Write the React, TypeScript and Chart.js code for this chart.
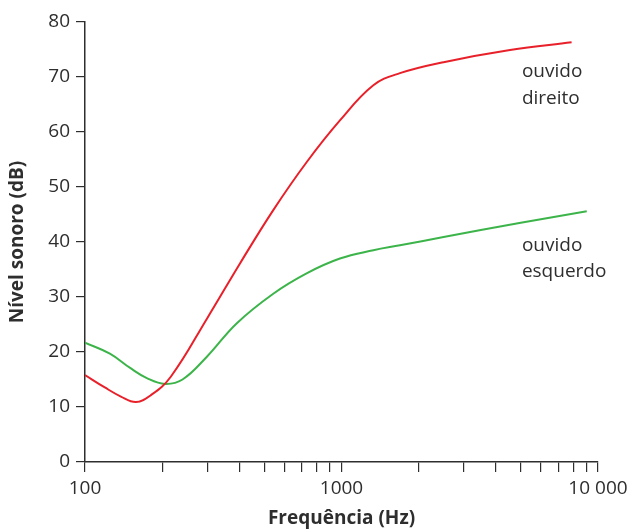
import React, { useEffect, useRef } from "react";
import { Chart, registerables } from "chart.js";

Chart.register(...registerables);

// Frequency (Hz) and sound level (dB) for each ear
const rightFreq = [100, 119, 138, 158, 180, 216, 300, 402, 542, 731, 986, 1331, 1690, 2500, 4540, 7890];
const rightLevel = [15.8, 13.6, 11.9, 10.9, 12.1, 15.5, 26.2, 36.1, 45.8, 54.5, 62.1, 68.5, 70.7, 72.7, 74.9, 76.3];

const leftFreq = [100, 125, 150, 175, 205, 240, 298, 390, 542, 731, 986, 1331, 1690, 2500, 5000, 9040];
const leftLevel = [21.7, 19.7, 17.1, 15.2, 14.2, 15.0, 19.1, 25.2, 30.6, 34.3, 37.0, 38.5, 39.4, 40.9, 43.5, 45.6];

const xTickLabels = [100, 1000, 10000];
const yMin = 0;
const yMax = 80;

// Curve labels: text lines, anchor frequency and level of each line
const rightLabelLines = ["ouvido", "direito"];
const rightLabelLevels = [70.9, 66.1];
const leftLabelLines = ["ouvido", "esquerdo"];
const leftLabelLevels = [39.4, 34.7];
const labelFreq = 5050;

const RED = "#e8202a";
const GREEN = "#3cb44a";
const INK = "#2e2e2e";
const FONT = "'Open Sans', 'DejaVu Sans', sans-serif";

const toPoints = (xs: number[], ys: number[]) => xs.map((x, i) => ({ x, y: ys[i] }));

const curveLabels = {
  id: "curveLabels",
  afterDatasetsDraw(chart: any) {
    const { ctx, scales } = chart;
    ctx.save();
    ctx.fillStyle = INK;
    ctx.font = `19px ${FONT}`;
    ctx.textAlign = "left";
    ctx.textBaseline = "middle";
    const x = scales.x.getPixelForValue(labelFreq);
    rightLabelLines.forEach((t, i) => ctx.fillText(t, x, scales.y.getPixelForValue(rightLabelLevels[i])));
    leftLabelLines.forEach((t, i) => ctx.fillText(t, x, scales.y.getPixelForValue(leftLabelLevels[i])));
    ctx.restore();
  },
};

export default function App() {
  const ref = useRef<HTMLCanvasElement | null>(null);

  useEffect(() => {
    document.body.style.margin = "0";
    const canvas = ref.current;
    if (!canvas) return;
    const chart = new Chart(canvas, {
      type: "line",
      data: {
        datasets: [
          {
            label: "ouvido direito",
            data: toPoints(rightFreq, rightLevel),
            borderColor: RED,
            borderWidth: 2,
            pointRadius: 0,
            tension: 0.4,
            fill: false,
          },
          {
            label: "ouvido esquerdo",
            data: toPoints(leftFreq, leftLevel),
            borderColor: GREEN,
            borderWidth: 2,
            pointRadius: 0,
            tension: 0.4,
            fill: false,
          },
        ],
      },
      options: {
        responsive: false,
        animation: false,
        layout: { padding: { top: 22, right: 35, left: 0, bottom: 0 } },
        plugins: {
          legend: { display: false },
          tooltip: { enabled: false },
        },
        scales: {
          x: {
            type: "logarithmic",
            min: 100,
            max: 10000,
            afterFit: (s: any) => {
              s.height = 68;
            },
            afterBuildTicks: (s: any) => {
              const t: any[] = [];
              for (let d = 100; d < 10000; d *= 10) {
                for (let k = 1; k <= 9; k++) t.push({ value: d * k });
              }
              t.push({ value: 10000 });
              s.ticks = t;
            },
            border: { color: INK, width: 1.5 },
            grid: { drawOnChartArea: false, color: INK, tickLength: 10, lineWidth: 1.2 },
            ticks: {
              autoSkip: false,
              maxRotation: 0,
              color: INK,
              padding: 5,
              font: { family: FONT, size: 19 },
              callback: (v: any) => {
                const n = Number(v);
                if (!xTickLabels.includes(n)) return "";
                return n >= 10000 ? n.toLocaleString("en").replace(",", " ") : String(n);
              },
            },
            title: {
              display: true,
              text: "Frequência (Hz)",
              color: INK,
              font: { family: FONT, size: 19, weight: "bold" },
              padding: { top: 0, bottom: 0 },
            },
          },
          y: {
            min: yMin,
            max: yMax,
            afterFit: (s: any) => {
              s.width = 85;
            },
            border: { color: INK, width: 1.5 },
            grid: { drawOnChartArea: false, color: INK, tickLength: 9, lineWidth: 1.2 },
            ticks: {
              stepSize: 10,
              color: INK,
              padding: 6,
              font: { family: FONT, size: 19 },
            },
            title: {
              display: true,
              text: "Nível sonoro (dB)",
              color: INK,
              font: { family: FONT, size: 19, weight: "bold" },
              padding: { top: 6, bottom: 4 },
            },
          },
        },
      },
      plugins: [curveLabels],
    } as any);
    return () => chart.destroy();
  }, []);

  return <canvas ref={ref} width={633} height={530} style={{ display: "block" }} />;
}
